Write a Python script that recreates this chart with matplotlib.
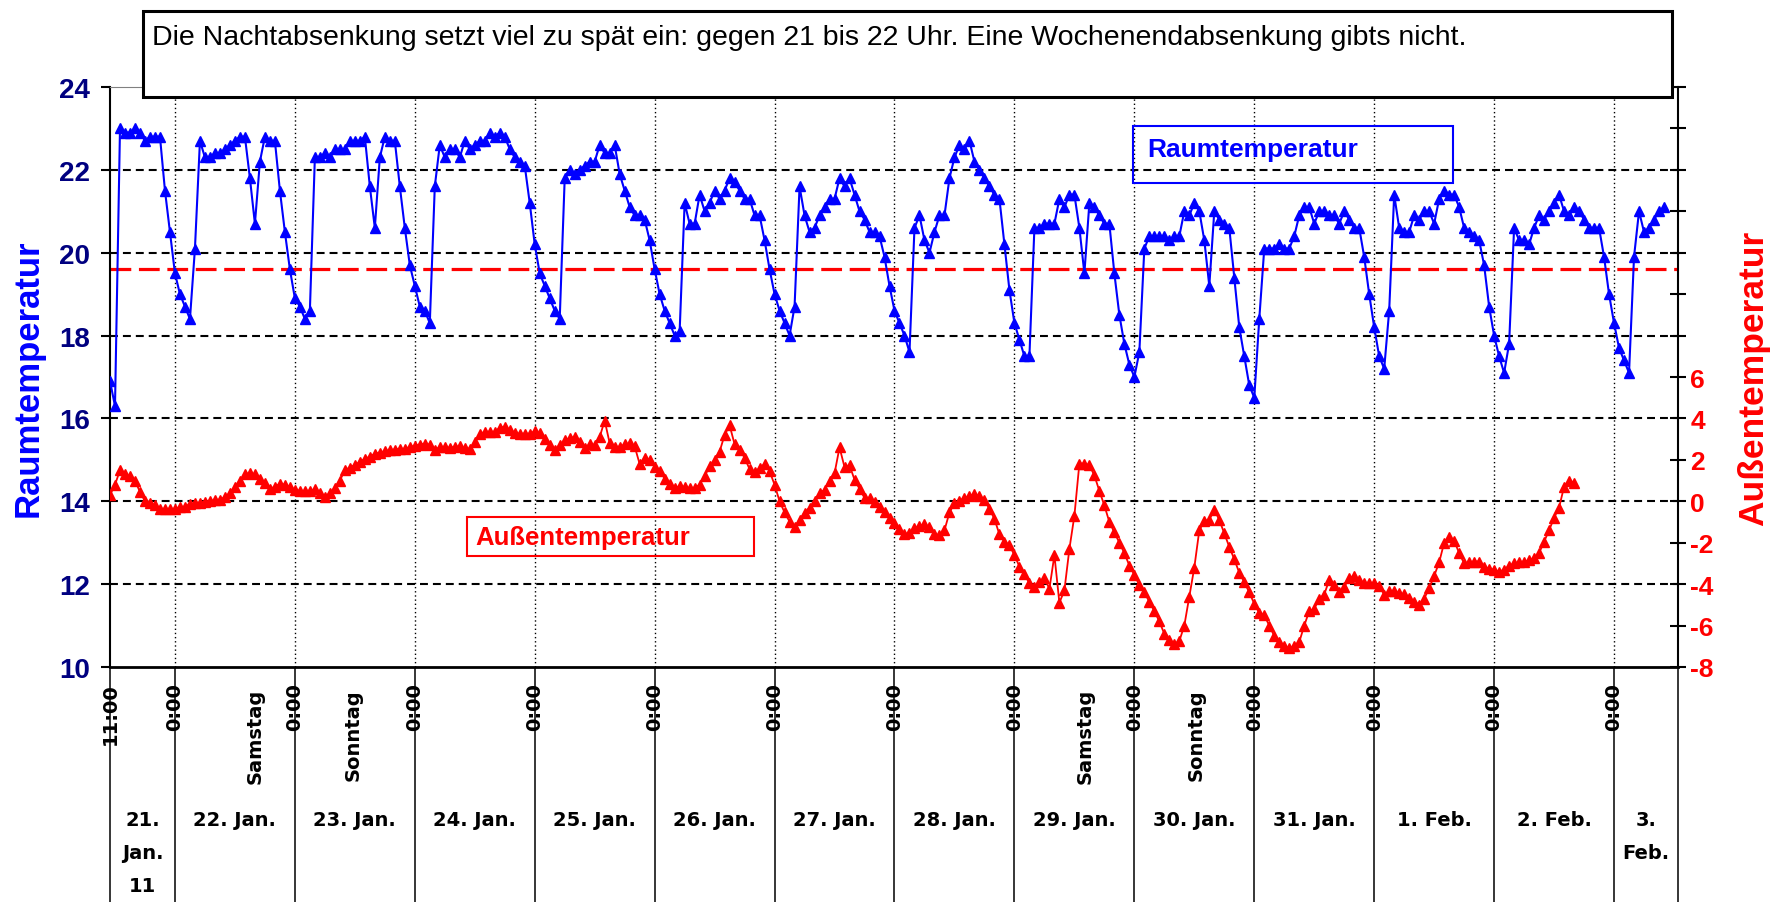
import numpy as np
import matplotlib.pyplot as plt
from matplotlib.patches import Rectangle

# hourly readings, first one on 21 Jan 2011 at 11:00 (x axis = hours since 21 Jan 0:00)
start_hour = 11

raum = [16.9, 16.3, 23.0, 22.9, 22.9, 23.0, 22.9, 22.7, 22.8, 22.8, 22.8, 21.5, 20.5,
        19.5, 19.0, 18.7, 18.4, 20.1, 22.7, 22.3, 22.3, 22.4, 22.4, 22.5, 22.6, 22.7,
        22.8, 22.8, 21.8, 20.7, 22.2, 22.8, 22.7, 22.7, 21.5, 20.5, 19.6, 18.9, 18.7,
        18.4, 18.6, 22.3, 22.3, 22.4, 22.3, 22.5, 22.5, 22.5, 22.7, 22.7, 22.7, 22.8,
        21.6, 20.6, 22.3, 22.8, 22.7, 22.7, 21.6, 20.6, 19.7, 19.2, 18.7, 18.6, 18.3,
        21.6, 22.6, 22.3, 22.5, 22.5, 22.3, 22.7, 22.5, 22.6, 22.7, 22.7, 22.9, 22.8,
        22.9, 22.8, 22.5, 22.3, 22.2, 22.1, 21.2, 20.2, 19.5, 19.2, 18.9, 18.6, 18.4,
        21.8, 22.0, 21.9, 22.0, 22.1, 22.2, 22.2, 22.6, 22.4, 22.4, 22.6, 21.9, 21.5,
        21.1, 20.9, 20.9, 20.8, 20.3, 19.6, 19.0, 18.6, 18.3, 18.0, 18.1, 21.2, 20.7,
        20.7, 21.4, 21.0, 21.2, 21.5, 21.3, 21.5, 21.8, 21.7, 21.5, 21.3, 21.3, 20.9,
        20.9, 20.3, 19.6, 19.0, 18.6, 18.3, 18.0, 18.7, 21.6, 20.9, 20.5, 20.6,
        20.9, 21.1, 21.3, 21.3, 21.8, 21.6, 21.8, 21.4, 21.0, 20.8, 20.5, 20.5, 20.4,
        19.9, 19.2, 18.6, 18.3, 18.0, 17.6, 20.6, 20.9, 20.3, 20.0, 20.5, 20.9, 20.9,
        21.8, 22.3, 22.6, 22.5, 22.7, 22.2, 22.0, 21.8, 21.6, 21.4, 21.3, 20.2, 19.1,
        18.3, 17.9, 17.5, 17.5, 20.6, 20.6, 20.7, 20.7, 20.7, 21.3, 21.1, 21.4,
        21.4, 20.6, 19.5, 21.2, 21.1, 20.9, 20.7, 20.7, 19.5, 18.5, 17.8, 17.3, 17.0,
        17.6, 20.1, 20.4, 20.4, 20.4, 20.4, 20.3, 20.4, 20.4, 21.0, 20.9, 21.2, 21.0,
        20.3, 19.2, 21.0, 20.8, 20.7, 20.6, 19.4, 18.2, 17.5, 16.8, 16.5, 18.4, 20.1,
        20.1, 20.1, 20.2, 20.1, 20.1, 20.4, 20.9, 21.1, 21.1, 20.7, 21.0, 21.0, 20.9,
        20.9, 20.7, 21.0, 20.8, 20.6, 20.6, 19.9, 19.0, 18.2, 17.5, 17.2, 18.6, 21.4,
        20.6, 20.5, 20.5, 20.9, 20.8, 21.0, 21.0, 20.7, 21.3, 21.5, 21.4, 21.4, 21.1,
        20.6, 20.5, 20.4, 20.3, 19.7, 18.7, 18.0, 17.5, 17.1, 17.8, 20.6, 20.3, 20.3,
        20.2, 20.6, 20.9, 20.8, 21.0, 21.2, 21.4, 21.0, 20.9, 21.1, 21.0, 20.8, 20.6,
        20.6, 20.6, 19.9, 19.0, 18.3, 17.7, 17.4, 17.1, 19.9, 21.0, 20.5, 20.6, 20.8,
        21.0, 21.1]

aussen = [0.3, 0.8, 1.5, 1.3, 1.2, 1.0, 0.45, 0.0, -0.1, -0.2,
          -0.37, -0.37, -0.37, -0.37, -0.28, -0.26, -0.14, -0.1, -0.07, -0.02,
          0.02, 0.05, 0.08, 0.2, 0.4, 0.7, 1.0, 1.3, 1.37, 1.3,
          1.1, 0.9, 0.6, 0.7, 0.85, 0.8, 0.7, 0.55, 0.5, 0.5,
          0.5, 0.58, 0.4, 0.2, 0.4, 0.65, 1.0, 1.5, 1.63, 1.75,
          1.9, 2.05, 2.15, 2.3, 2.35, 2.42, 2.46, 2.5, 2.53, 2.53,
          2.62, 2.68, 2.74, 2.78, 2.73, 2.5, 2.6, 2.6, 2.58, 2.63,
          2.65, 2.56, 2.53, 2.85, 3.25, 3.35, 3.35, 3.35, 3.55,
          3.6, 3.45, 3.3, 3.25, 3.27, 3.25, 3.38, 3.3, 3.0, 2.7,
          2.5, 2.7, 2.95, 3.05, 3.1, 2.85, 2.58, 2.75, 2.72, 3.1,
          3.9, 2.8, 2.6, 2.6, 2.75, 2.79, 2.65, 1.8, 2.1, 2.0,
          1.65, 1.45, 1.1, 0.85, 0.65, 0.72, 0.7, 0.62, 0.65, 0.8,
          1.2, 1.7, 2.0, 2.4, 3.2, 3.67, 2.75, 2.5, 2.1, 1.55,
          1.4, 1.6, 1.8, 1.45, 0.8, 0.0, -0.54, -0.98, -1.25, -0.9,
          -0.55, -0.3, 0.0, 0.4, 0.55, 1.0, 1.35, 2.6, 1.65, 1.74,
          1.04, 0.6, 0.16, 0.16, -0.02, -0.28, -0.54, -0.81, -1.07, -1.33,
          -1.6, -1.51, -1.3, -1.2, -1.12, -1.25, -1.6, -1.65, -1.4, -0.54,
          -0.1, 0.02, 0.16, 0.25, 0.33, 0.25, 0.07, -0.37, -0.85, -1.6,
          -1.95, -2.12, -2.6, -3.15, -3.53, -3.96, -4.14, -3.88, -3.7, -4.23,
          -2.6, -4.9, -4.3, -2.3, -0.7, 1.82, 1.82, 1.74, 1.25, 0.5,
          -0.2, -1.0, -1.5, -2.0, -2.5, -3.1, -3.55, -4.05, -4.4, -4.85,
          -5.3, -5.8, -6.4, -6.68, -6.9, -6.75, -6.0, -4.6, -3.2, -1.4,
          -0.95, -0.9, -0.4, -0.9, -1.55, -2.2, -2.8, -3.45, -3.9, -4.4,
          -4.95, -5.4, -5.5, -6.0, -6.5, -6.8, -7.0, -7.1, -7.0, -6.8,
          -6.0, -5.3, -5.2, -4.7, -4.5, -3.8, -4.05, -4.4, -4.14, -3.7,
          -3.6, -3.8, -3.96, -3.96, -3.96, -4.1, -4.5, -4.35, -4.32, -4.45,
          -4.49, -4.65, -4.84, -5.0, -4.7, -4.2, -3.6, -2.95, -2.0, -1.7,
          -1.9, -2.5, -3.0, -2.95, -2.91, -2.91, -3.15, -3.26, -3.3, -3.4,
          -3.3, -3.12, -3.0, -2.95, -2.91, -2.85, -2.75, -2.5, -1.95, -1.4,
          -0.8, -0.3, 0.7, 1.0, 0.9]

x_end = 324.8
tick_hours = [11, 24, 48, 72, 96, 120, 144, 168, 192, 216, 240, 264, 288, 312]
tick_labels = ['11:00'] + ['0:00'] * 13
day_labels = ['21.\nJan.\n11', '22. Jan.', '23. Jan.', '24. Jan.', '25. Jan.', '26. Jan.',
              '27. Jan.', '28. Jan.', '29. Jan.', '30. Jan.', '31. Jan.', '1. Feb.',
              '2. Feb.', '3.\nFeb.']
weekend_labels = ['Samstag', 'Sonntag', 'Samstag', 'Sonntag']
weekend_hours = [40, 59.6, 206.2, 228.4]
left_ticks = list(range(10, 25, 2))
right_ticks = list(range(-8, 21, 2))
right_shown = 6
limit = 19.6

title = 'Die Nachtabsenkung setzt viel zu spät ein: gegen 21 bis 22 Uhr. Eine Wochenendabsenkung gibts nicht.'

W, H = 1778, 903
def fx(px):
    return px / W
def fy(py):
    return 1 - py / H

blue = '#0000FF'
red = '#FF0000'
navy = '#000080'
arial = 'Liberation Sans'
wide = 'DejaVu Sans'

fig = plt.figure(figsize=(W / 100, H / 100), dpi=100)
ax = fig.add_axes([fx(110), fy(668), fx(1568), 580 / H])
ax2 = ax.twinx()

ax.set_xlim(start_hour, x_end)
ax.set_ylim(left_ticks[0], left_ticks[-1])
ax2.set_ylim(right_ticks[0], right_ticks[-1])

# grid
for lvl in left_ticks[1:-1]:
    ax.axhline(lvl, color='black', lw=1.5, ls=(0, (3.8, 2.4)), zorder=1)
for h in tick_hours[1:]:
    ax.axvline(h, color='black', lw=1.0, ls=(0, (1, 2)), zorder=1)
ax.axhline(limit, color=red, lw=2.3, ls=(0, (6.5, 2.4)), zorder=2)

hr = start_hour + np.arange(len(raum))
ha = start_hour + np.arange(len(aussen))
ax.plot(hr, raum, color=blue, lw=1.5, marker='^', ms=7, mec=blue, mfc=blue, zorder=3)
ax2.plot(ha, aussen, color=red, lw=1.3, marker='^', ms=7, mec=red, mfc=red, zorder=3)

# spines
ax.spines['right'].set_visible(False)
ax.spines['top'].set_color('#808080')
ax.spines['left'].set_linewidth(1.5)
ax.spines['bottom'].set_linewidth(2.0)
for s in ['left', 'top', 'bottom']:
    ax2.spines[s].set_visible(False)
ax2.spines['right'].set_linewidth(1.5)

# y ticks
ax.set_yticks(left_ticks)
ax.set_yticklabels([str(v) for v in left_ticks], fontsize=20, fontweight='bold',
                   color=navy, family=arial)
ax.tick_params(axis='y', direction='out', length=6.5, width=1.5, pad=8)
ax2.set_yticks(right_ticks)
ax2.set_yticklabels([str(v) if v <= right_shown else '' for v in right_ticks],
                    fontsize=19, fontweight='bold', color=red, family=arial)
ax2.tick_params(axis='y', direction='inout', length=11.5, width=1.5, pad=3)

ax.set_ylabel('Raumtemperatur', fontsize=25, fontweight='bold', color=blue, family=arial)
ax.yaxis.set_label_coords((28 - 110) / 1568, 0.5)
ax.yaxis.label.set_va('center')
ax2.set_ylabel('Außentemperatur', fontsize=25.5, fontweight='bold', color=red, family=arial)
ax2.yaxis.set_label_coords((1754 - 110) / 1568, 0.5)
ax2.yaxis.label.set_va('center')

# x axis: time ticks, separators, day names
ax.set_xticks(tick_hours)
ax.set_xticklabels(tick_labels, rotation=90, fontsize=14, fontweight='bold', family=wide)
ax.tick_params(axis='x', length=0, pad=11)

trans = ax.get_xaxis_transform()
bottom = -(H - 668) / 580
bounds = tick_hours + [x_end]
ax.vlines(bounds, bottom, 0, transform=trans, clip_on=False, color='black', lw=1.1)
for i, lab in enumerate(day_labels):
    mid = (bounds[i] + bounds[i + 1]) / 2
    ax.text(mid, -(811 - 668) / 580, lab, transform=trans, ha='center', va='top',
            fontsize=14, fontweight='bold', family=wide, linespacing=1.95)
for lab, h in zip(weekend_labels, weekend_hours):
    ax.text(h, -(689 - 668) / 580, lab, transform=trans, rotation=90, ha='center',
            va='top', fontsize=14, fontweight='bold', family=wide)

# boxes
fig.add_artist(Rectangle((fx(143), fy(98)), fx(1672 - 143), 86 / H, transform=fig.transFigure,
                         fc='white', ec='black', lw=2.2, zorder=10))
fig.text(fx(152), fy(45), title, fontsize=20.5, family=arial, va='baseline', zorder=11)

fig.add_artist(Rectangle((fx(1133), fy(184)), fx(320), 57 / H, transform=fig.transFigure,
                         fill=False, ec=blue, lw=1.5, zorder=10))
fig.text(fx(1147), fy(157), 'Raumtemperatur', fontsize=19, fontweight='bold', color=blue,
         family=arial, va='baseline', zorder=11)
fig.add_artist(Rectangle((fx(467), fy(557)), fx(287), 39 / H, transform=fig.transFigure,
                         fill=False, ec=red, lw=1.5, zorder=10))
fig.text(fx(475), fy(545), 'Außentemperatur', fontsize=18.5, fontweight='bold', color=red,
         family=arial, va='baseline', zorder=11)

fig.savefig('out.png', dpi=100)
